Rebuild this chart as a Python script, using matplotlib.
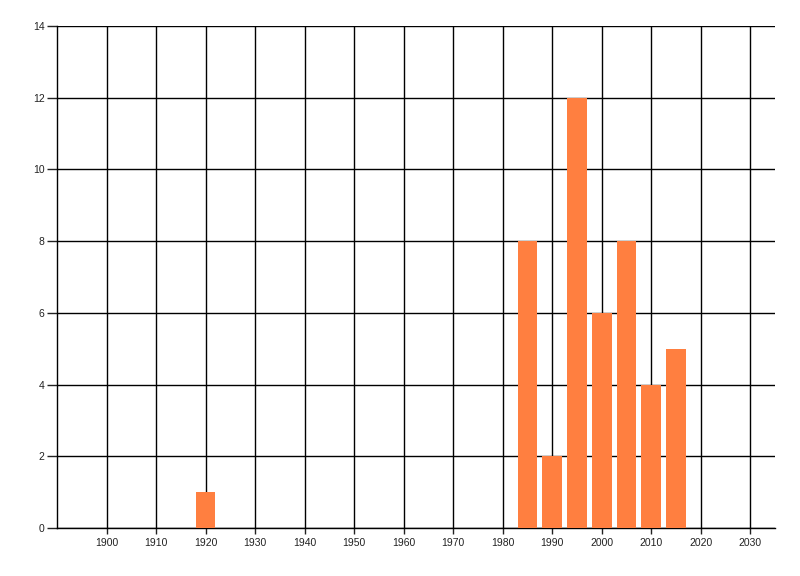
import matplotlib
matplotlib.use("Agg")
import matplotlib.pyplot as plt

years = [1920, 1985, 1990, 1995, 2000, 2005, 2010, 2015]
counts = [1, 8, 2, 12, 6, 8, 4, 5]
x_ticks = list(range(1900, 2031, 10))
y_ticks = list(range(0, 15, 2))

plt.rcParams["font.family"] = ["Liberation Sans", "DejaVu Sans"]

fig = plt.figure(figsize=(8, 5.76), dpi=100)
ax = fig.add_axes([57 / 800, 1 - 528 / 576, (775 - 57) / 800, (528 - 26) / 576])

ax.bar(years, counts, width=4, color="#FF7F40", zorder=3)

ax.set_xlim(1890, 2035)
ax.set_ylim(0, 14)
ax.set_xticks(x_ticks)
ax.set_yticks(y_ticks)
ax.grid(True, color="black", linewidth=1.0, zorder=1)
ax.set_axisbelow(True)

for side in ["top", "right"]:
    ax.spines[side].set_visible(False)
for side in ["left", "bottom"]:
    ax.spines[side].set_linewidth(1.0)

ax.tick_params(axis="y", length=7, width=1, labelsize=7.5, pad=2, colors="#222222")
ax.tick_params(axis="x", length=4, width=1, labelsize=7.5, pad=3, colors="#222222")

fig.savefig("out.png", dpi=100)
